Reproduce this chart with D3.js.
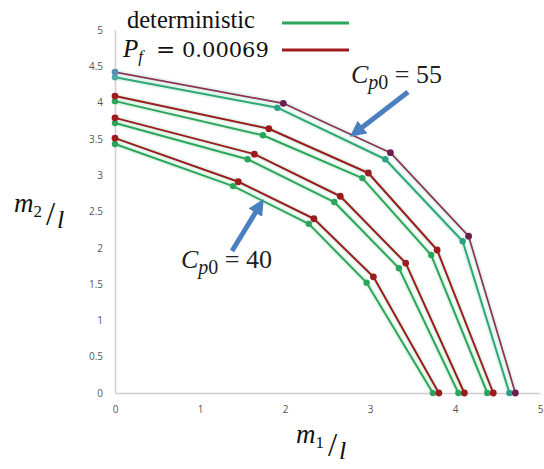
<!DOCTYPE html>
<html>
<head>
<meta charset="utf-8">
<script src="https://cdn.jsdelivr.net/npm/d3@7/dist/d3.min.js"></script>
<style>
  html, body { margin: 0; padding: 0; background: #fff; }
  svg { display: block; }
</style>
</head>
<body>
<svg id="chart" width="544" height="469"></svg>
<script>
// ---------------- data ----------------
const xTicks = [0, 1, 2, 3, 4, 5];
const yTicks = [0, 0.5, 1, 1.5, 2, 2.5, 3, 3.5, 4, 4.5, 5];

// deterministic (green) curves, innermost (Cp0 = 40) to outermost (Cp0 = 55)
const detM1 = [
  [0, 1.39, 2.28, 2.96, 3.74],
  [0, 1.56, 2.58, 3.34, 4.04],
  [0, 1.74, 2.91, 3.72, 4.38],
  [0, 1.91, 3.18, 4.09, 4.64]
];
const detM2 = [
  [3.43, 2.85, 2.33, 1.52, 0],
  [3.72, 3.22, 2.63, 1.72, 0],
  [4.02, 3.55, 2.96, 1.90, 0],
  [4.35, 3.93, 3.22, 2.09, 0]
];
// Pf = 0.00069 (red) curves
const pfM1 = [
  [0, 1.45, 2.34, 3.04, 3.81],
  [0, 1.64, 2.65, 3.42, 4.11],
  [0, 1.81, 2.98, 3.79, 4.45],
  [0, 1.98, 3.24, 4.16, 4.71]
];
const pfM2 = [
  [3.51, 2.91, 2.40, 1.60, 0],
  [3.79, 3.29, 2.71, 1.79, 0],
  [4.09, 3.64, 3.03, 1.97, 0],
  [4.42, 3.99, 3.31, 2.16, 0]
];
const legendLabels = ["deterministic", "P", "f", "=", "0.00069"];
const annoLabels = [{ sub: "p", sub2: "0", value: "55" }, { sub: "p", sub2: "0", value: "40" }];

// ---------------- chart ----------------
const svg = d3.select("#chart");
const green = "#2ba55a";
const red = "#9b1b1f";
const x = d3.scaleLinear().domain([0, 5]).range([115, 540]);
const y = d3.scaleLinear().domain([0, 5]).range([393, 30]);

// axes
const xAxis = d3.axisBottom(x).tickValues(xTicks).tickSize(0).tickPadding(13).tickFormat(d3.format("d"));
const yAxis = d3.axisLeft(y).tickValues(yTicks).tickSize(0).tickPadding(12).tickFormat(d => String(d));

const gx = svg.append("g").attr("transform", `translate(0,${y(0)})`).call(xAxis);
const gy = svg.append("g").attr("transform", `translate(${x(0)},0)`).call(yAxis);
gx.select(".domain").attr("stroke", "#cfcfcf").attr("stroke-width", 1.5);
gy.select(".domain").attr("stroke", "#cfcfcf").attr("stroke-width", 1.5);
[gx, gy].forEach(g => g.selectAll("text")
  .attr("fill", "#555").style("font-family", "'Open Sans', 'Liberation Sans', sans-serif").style("font-size", "10px"));

// lines
const line = d3.line().x(d => x(d[0])).y(d => y(d[1]));
function drawSeries(m1s, m2s, color, r, isPf) {
  m1s.forEach((m1, i) => {
    const top = i === m1s.length - 1;
    const c = top ? (isPf ? "#8e2f5a" : "#2ea67a") : color;
    const pts = m1.map((v, j) => [v, m2s[i][j]]);
    svg.append("path").datum(pts).attr("d", line)
      .attr("fill", "none").attr("stroke", "#cdeed8").attr("stroke-width", 5.5)
      .attr("stroke-linejoin", "round").attr("opacity", 0.55);
    svg.append("path").datum(pts).attr("d", line)
      .attr("fill", "none").attr("stroke", c).attr("stroke-width", top && isPf ? 1.7 : 2)
      .attr("stroke-linejoin", "round");
    svg.append("g").selectAll("circle").data(pts).join("circle")
      .attr("cx", d => x(d[0])).attr("cy", d => y(d[1])).attr("r", r)
      .attr("fill", (d, j) => top ? (isPf ? (j === 0 ? "#5a8db2" : "#6a1f4f") : (j === 0 ? "#55a8a8" : "#2aa088")) : color);
  });
}
drawSeries(detM1, detM2, green, 3.2, false);
drawSeries(pfM1, pfM2, red, 3.4, true);

// legend
const serif = "'Liberation Serif', 'DejaVu Serif', serif";
svg.append("text").attr("x", 127).attr("y", 28)
  .style("font-family", serif).style("font-size", "24.5px").attr("fill", "#111")
  .text(legendLabels[0]);
const t2 = svg.append("text").attr("x", 123).attr("y", 57)
  .style("font-family", serif).style("font-size", "25px").attr("fill", "#111");
t2.append("tspan").style("font-style", "italic").text(legendLabels[1]);
t2.append("tspan").style("font-style", "italic").style("font-size", "17px").attr("dy", 5).text(legendLabels[2]);
t2.append("tspan").attr("x", 156).attr("dy", -5).style("font-family", "'DejaVu Serif', serif").style("font-size", "23px").text(legendLabels[3]);
t2.append("tspan").attr("x", 182).style("font-family", "'DejaVu Serif', serif").style("font-size", "21px").text(legendLabels[4]);
svg.append("line").attr("x1", 282).attr("x2", 349).attr("y1", 23).attr("y2", 23)
  .attr("stroke", green).attr("stroke-width", 3);
svg.append("line").attr("x1", 282).attr("x2", 349).attr("y1", 50).attr("y2", 50)
  .attr("stroke", red).attr("stroke-width", 3);

// annotations
function cLabel(xp, yp, a) {
  const t = svg.append("text").attr("x", xp).attr("y", yp)
    .style("font-family", serif).style("font-size", "26px").attr("fill", "#222");
  t.append("tspan").style("font-style", "italic").text("C");
  t.append("tspan").style("font-style", "italic").style("font-size", "20px").attr("dy", 6).text(a.sub);
  t.append("tspan").style("font-size", "20px").text(a.sub2);
  t.append("tspan").attr("dy", -6).text(" = " + a.value);
}
cLabel(351, 83, annoLabels[0]);
cLabel(181, 268, annoLabels[1]);

// arrows
const blue = "#4a80bf";
svg.append("defs").append("marker").attr("id", "ah")
  .attr("viewBox", "0 0 10 10").attr("refX", 2).attr("refY", 5)
  .attr("markerWidth", 3.2).attr("markerHeight", 3.2).attr("orient", "auto")
  .attr("markerUnits", "strokeWidth")
  .append("path").attr("d", "M0,0 L10,5 L0,10 Z").attr("fill", blue);
svg.append("line").attr("x1", 408).attr("y1", 92).attr("x2", 360).attr("y2", 129)
  .attr("stroke", blue).attr("stroke-width", 5).attr("marker-end", "url(#ah)");
svg.append("line").attr("x1", 232).attr("y1", 251).attr("x2", 257).attr("y2", 210)
  .attr("stroke", blue).attr("stroke-width", 5).attr("marker-end", "url(#ah)");

// axis titles
function axTitle(xp, yp, sub) {
  const g = svg.append("g").style("font-family", serif).attr("fill", "#111");
  const t = g.append("text").attr("x", xp).attr("y", yp).style("font-size", "27px");
  t.append("tspan").style("font-style", "italic").text("m");
  t.append("tspan").style("font-size", "17px").attr("dy", 5).text(sub);
  const w = 32;
  g.append("text").attr("x", xp + w).attr("y", yp + 13).style("font-size", "33px").text("/");
  g.append("text").attr("x", xp + w + 11).attr("y", yp + 16).style("font-size", "26px")
    .style("font-style", "italic").text("l");
}
axTitle(14, 212, "2");
axTitle(296, 443, "1");
</script>
</body>
</html>
